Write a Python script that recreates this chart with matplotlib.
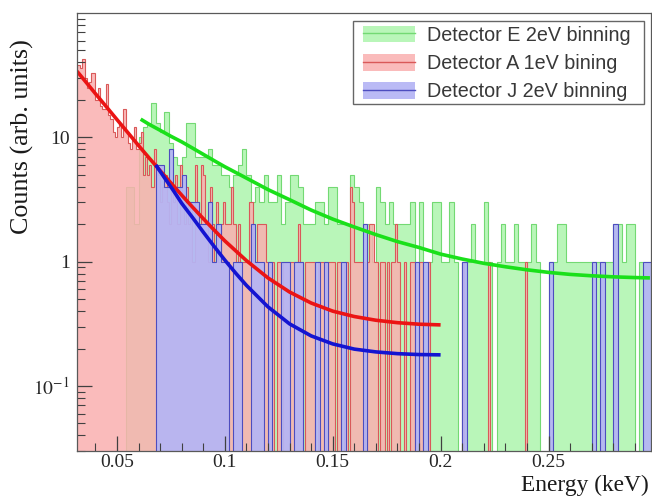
import numpy as np
import matplotlib
matplotlib.use("Agg")
import matplotlib.pyplot as plt
from matplotlib.patches import Patch, Rectangle
from matplotlib.lines import Line2D
from matplotlib.ticker import FixedLocator, FixedFormatter, MultipleLocator

plt.rcParams['font.family'] = ['Liberation Serif', 'DejaVu Serif']
plt.rcParams['mathtext.fontset'] = 'stix'

# Detector E, 2 eV bins starting at 0.054 keV
green_start = 0.054
green_bin = 0.002
green_counts = [4, 4, 2, 10, 12, 13, 19, 13, 11, 16, 9, 7, 6, 7, 13, 13, 7, 7, 7, 8, 6, 6, 5,
                5, 4, 5, 6, 8, 5, 3, 4, 3, 5, 3, 3, 5, 2, 3, 5,
                5, 4, 2, 2, 2, 3, 3, 2, 4, 4, 2, 2, 2, 5, 4, 3, 2, 2,
                1, 4, 3, 2, 3, 2, 2, 2, 2, 3, 1, 3, 1, 1, 3, 3,
                1, 1, 3, 1, 0, 1, 1, 2, 1, 1, 3, 1, 0, 1, 2, 1, 1,
                2, 1, 1, 1, 2, 1, 0, 0, 1, 1, 2, 2, 1, 1, 1, 1, 1,
                1, 1, 1, 1, 1, 1, 2, 2, 1, 2, 2, 0, 1, 1, 1]

# Detector A, 1 eV bins starting at 0.031 keV
red_start = 0.031
red_bin = 0.001
red_counts = [38, 38, 36, 43, 30, 25, 28, 33, 33, 20, 25, 18, 17, 17, 27, 15, 14, 11, 10, 12,
              13, 10, 17, 11, 9, 8, 10, 12, 8, 9, 11, 5, 7,
              5, 6, 4, 8, 6, 5, 3, 4, 5, 3, 2, 4, 3, 5, 2, 6, 3, 2, 4, 2, 3, 1, 6, 3, 2, 6,
              5, 2, 1, 4, 2, 1, 3, 1, 2,
              3, 2, 2, 2, 4, 2, 1, 2, 1, 1, 1, 1, 3, 3, 1, 1, 2, 2, 2, 2, 1, 1, 1, 1, 0, 1,
              1, 0, 1, 1, 1, 1, 1,
              1, 1, 2, 1, 0, 1, 1, 1, 1, 1, 0, 1, 1, 1, 1, 0, 1, 1, 1, 0, 1, 1, 0, 1, 1, 0,
              4, 3, 1,
              1, 1, 1, 1, 0, 1, 2, 2, 1, 1, 0, 1, 1, 0, 1, 0, 1, 1, 2, 1, 0, 0, 1, 0, 0, 1,
              1, 0, 0, 1, 1, 0, 0, 1, 0, 0, 0, 0, 0, 0,
              0, 0, 0, 0, 0, 0, 0, 0, 0, 1, 0, 0, 0, 0, 0, 0, 0, 0, 0, 0, 0, 1, 0, 0, 0, 0,
              0, 0, 0, 0, 0, 0, 0, 0, 0, 0, 0, 0, 1, 0]

# Detector J, 2 eV bins starting at 0.068 keV
blue_start = 0.068
blue_bin = 0.002
blue_counts = [6, 6, 4, 8, 4, 4, 5, 3, 3, 3, 2, 2, 3, 1, 2, 1,
               1, 0, 1, 1, 0, 0, 2, 1, 1, 0, 1, 0, 0, 1, 1, 0,
               1, 1, 0, 0, 0, 1, 0, 1, 0, 0, 0, 1, 0, 0, 0, 0, 2, 0,
               0, 0, 0, 0, 0, 0, 0, 0, 0, 0, 1, 0, 1,
               0, 0, 0, 0, 0, 0, 0, 0, 1,
               0, 0, 0, 0, 0, 0, 0, 0, 0, 0, 0, 0, 0, 0, 0, 0, 0, 0, 0, 1,
               0, 0, 0, 0, 0, 0, 0, 0, 0, 1, 0, 1, 0, 0, 2, 0, 0, 0, 0, 0, 0, 1, 1, 0]

# fitted curves
green_fit_e = [0.061, 0.065, 0.07, 0.075, 0.08, 0.085, 0.09, 0.095, 0.10, 0.11, 0.12, 0.13, 0.14,
               0.15, 0.16, 0.17, 0.18, 0.19, 0.20, 0.21, 0.22, 0.23, 0.24, 0.25, 0.26, 0.27,
               0.28, 0.29, 0.297]
green_fit_v = [14.0, 12.7, 11.4, 10.2, 9.2, 8.2, 7.3, 6.5, 5.8, 4.7, 3.8, 3.15, 2.6,
               2.2, 1.9, 1.65, 1.45, 1.3, 1.15, 1.05, 0.97, 0.91, 0.86, 0.82, 0.79, 0.77,
               0.755, 0.745, 0.74]
red_fit_e = [0.0315, 0.035, 0.04, 0.045, 0.05, 0.055, 0.06, 0.065, 0.07, 0.075, 0.08, 0.085,
             0.09, 0.095, 0.10, 0.11, 0.12, 0.13, 0.14, 0.15, 0.16, 0.17, 0.18, 0.19, 0.20]
red_fit_v = [34, 28.7, 22.5, 17.7, 13.9, 10.95, 8.6, 6.8, 5.4, 4.3, 3.43, 2.75,
             2.22, 1.80, 1.47, 1.02, 0.74, 0.57, 0.465, 0.40, 0.362, 0.338, 0.323, 0.314, 0.31]
blue_fit_e = [0.068, 0.072, 0.076, 0.08, 0.085, 0.09, 0.095, 0.10, 0.105, 0.11, 0.12, 0.13,
              0.14, 0.15, 0.16, 0.17, 0.18, 0.19, 0.20]
blue_fit_v = [6.0, 4.74, 3.77, 2.95, 2.27, 1.73, 1.33, 1.03, 0.81, 0.645, 0.433, 0.316,
              0.253, 0.218, 0.198, 0.188, 0.182, 0.179, 0.178]

labels = ["Detector E 2eV binning", "Detector A 1eV bining", "Detector J 2eV binning"]

fig = plt.figure(figsize=(6.52, 4.98), dpi=100)
ax = fig.add_axes([77 / 652, 1 - 451 / 498, 574 / 652, 438 / 498])
ax.set_yscale('log')

floor = 1e-4
hists = [
    (green_counts, green_start, green_bin, (0.68, 0.96, 0.68), 0.85, (0.45, 0.85, 0.45)),
    (red_counts, red_start, red_bin, (0.98, 0.69, 0.69), 0.85, (0.85, 0.35, 0.35)),
    (blue_counts, blue_start, blue_bin, (0.71, 0.71, 0.96), 0.93, (0.30, 0.30, 0.75)),
]
handles = []
for counts, start, width, fc, a, ec in hists:
    edges = start + width * np.arange(len(counts) + 1)
    vals = np.array(counts, dtype=float)
    vals[vals <= 0] = floor
    ax.stairs(vals, edges, baseline=floor, fill=True, color=fc, alpha=a, lw=0)
    ax.stairs(vals, edges, baseline=floor, color=ec, lw=0.8)
    handles.append((Patch(facecolor=fc, alpha=a, edgecolor='none'),
                    Line2D([], [], color=ec, lw=1)))

ax.plot(green_fit_e, green_fit_v, color=(0.1, 0.88, 0.1), lw=2.6, solid_capstyle='butt')
ax.plot(red_fit_e, red_fit_v, color=(0.92, 0.08, 0.08), lw=2.6, solid_capstyle='butt')
ax.plot(blue_fit_e, blue_fit_v, color=(0.08, 0.08, 0.82), lw=2.6, solid_capstyle='butt')

ax.set_xlim(0.0315, 0.2975)
ax.set_ylim(0.03, 100)

ax.xaxis.set_major_locator(FixedLocator([0.05, 0.1, 0.15, 0.2, 0.25]))
ax.xaxis.set_major_formatter(FixedFormatter(['0.05', '0.1', '0.15', '0.2', '0.25']))
ax.xaxis.set_minor_locator(MultipleLocator(0.01))
ax.yaxis.set_major_locator(FixedLocator([0.1, 1, 10]))
ax.yaxis.set_major_formatter(FixedFormatter(['$10^{-1}$', '1', '10']))
ax.yaxis.set_minor_locator(FixedLocator([k * 10.0 ** d for d in (-2, -1, 0, 1) for k in range(2, 10)]))
ax.yaxis.set_minor_formatter(FixedFormatter([]))

ax.tick_params(which='both', direction='in', top=False, right=False, colors=(0.25, 0.25, 0.25),
               labelcolor=(0.15, 0.15, 0.15), labelsize=14)
ax.tick_params(which='major', length=11, width=0.9)
ax.tick_params(which='minor', length=5.5, width=0.8)
ax.tick_params(axis='x', pad=2)
ax.tick_params(axis='y', pad=5)
for s in ax.spines.values():
    s.set_color((0.35, 0.35, 0.35))
    s.set_linewidth(0.9)

ax.set_ylabel('Counts (arb. units)', fontsize=18.7, loc='top', color=(0.1, 0.1, 0.1))
ax.yaxis.set_label_coords(-0.075, 0.94)
ax.set_xlabel('Energy (keV)', fontsize=16.8, loc='right', color=(0.1, 0.1, 0.1))
ax.xaxis.set_label_coords(0.996, -0.054)

# legend box drawn separately so the padding can match the ROOT layout
ax.add_patch(Rectangle((0.4808, 0.7922), 0.507, 0.1895, transform=ax.transAxes,
                       facecolor='white', edgecolor=(0.4, 0.4, 0.4), lw=1.0, zorder=4))
leg = ax.legend(handles, labels, loc='upper left', bbox_to_anchor=(0.4895, 0.9817),
                prop={'family': 'Liberation Sans', 'size': 14.2}, frameon=False,
                borderaxespad=0, handlelength=2.64, handleheight=0.9, handletextpad=0.61,
                labelspacing=0.47, borderpad=0.25)
leg.set_zorder(5)
for t in leg.get_texts():
    t.set_color((0.22, 0.22, 0.22))

fig.savefig('out.png', dpi=100)
